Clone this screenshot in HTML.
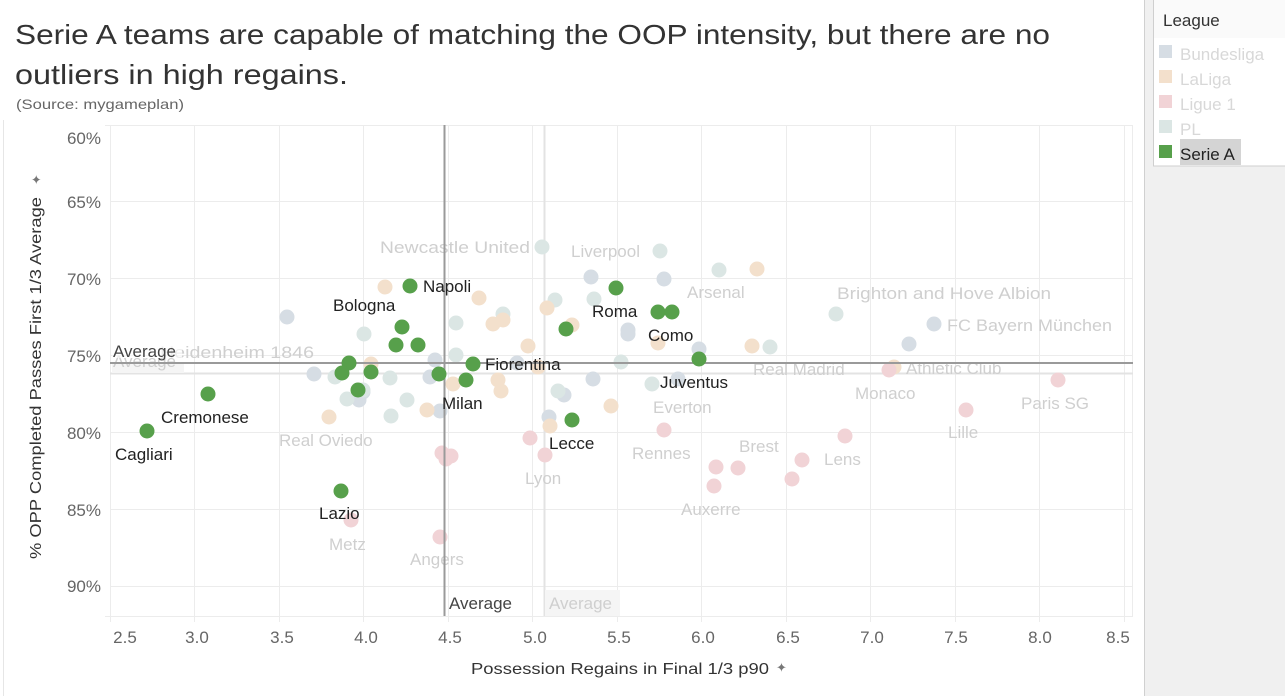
<!DOCTYPE html>
<html><head><meta charset="utf-8"><style>
html,body{margin:0;padding:0;background:#fff;}
svg{display:block;font-family:"Liberation Sans",sans-serif;}
</style></head><body>
<svg width="1285" height="696" viewBox="0 0 1285 696" xmlns="http://www.w3.org/2000/svg">
<rect width="1285" height="696" fill="#fff"/>
<rect x="1144" y="0" width="141" height="696" fill="#f0f0f0"/>
<line x1="1144.5" y1="0" x2="1144.5" y2="696" stroke="#d0d0d0"/>
<rect x="1153.5" y="-1" width="132" height="167" fill="#fff" stroke="#cfcfcf"/>
<rect x="1154" y="0" width="131" height="38" fill="#fafafa"/>
<text x="1163" y="26" font-size="17" fill="#333">League</text>
<rect x="1159" y="45" width="13" height="13" fill="#d6dde4"/>
<text x="1180" y="60" font-size="17" fill="#d8d8d8">Bundesliga</text>
<rect x="1159" y="70" width="13" height="13" fill="#f3e0cc"/>
<text x="1180" y="85" font-size="17" fill="#d8d8d8">LaLiga</text>
<rect x="1159" y="95" width="13" height="13" fill="#f1d3d6"/>
<text x="1180" y="110" font-size="17" fill="#d8d8d8">Ligue 1</text>
<rect x="1159" y="120" width="13" height="13" fill="#dbe6e4"/>
<text x="1180" y="135" font-size="17" fill="#d8d8d8">PL</text>
<rect x="1180" y="139" width="61" height="26" fill="#d4d4d4"/>
<rect x="1159" y="145" width="13" height="13" fill="#57a04b"/>
<text x="1180" y="160" font-size="17" fill="#222">Serie A</text>

<line x1="3.5" y1="120" x2="3.5" y2="696" stroke="#e6e6e6"/>

<text x="15" y="44" font-size="28" fill="#333" textLength="1035" lengthAdjust="spacingAndGlyphs">Serie A teams are capable of matching the OOP intensity, but there are no</text>
<text x="15" y="84" font-size="28" fill="#333" textLength="333" lengthAdjust="spacingAndGlyphs">outliers in high regains.</text>
<text x="16" y="109" font-size="14" fill="#666" textLength="168" lengthAdjust="spacingAndGlyphs">(Source: mygameplan)</text>

<g stroke="#ececec" stroke-width="1">
<line x1="105" y1="125.5" x2="1133" y2="125.5"/>
<line x1="110" y1="201.5" x2="1133" y2="201.5"/>
<line x1="110" y1="278.5" x2="1133" y2="278.5"/>
<line x1="110" y1="355.5" x2="1133" y2="355.5"/>
<line x1="110" y1="432.5" x2="1133" y2="432.5"/>
<line x1="110" y1="509.5" x2="1133" y2="509.5"/>
<line x1="110" y1="586.5" x2="1133" y2="586.5"/>
<line x1="105" y1="616.5" x2="1133" y2="616.5"/>
<line x1="110.5" y1="125" x2="110.5" y2="622"/>
<line x1="194.5" y1="125" x2="194.5" y2="622"/>
<line x1="279.5" y1="125" x2="279.5" y2="622"/>
<line x1="363.5" y1="125" x2="363.5" y2="622"/>
<line x1="448.5" y1="125" x2="448.5" y2="622"/>
<line x1="532.5" y1="125" x2="532.5" y2="622"/>
<line x1="617.5" y1="125" x2="617.5" y2="622"/>
<line x1="701.5" y1="125" x2="701.5" y2="622"/>
<line x1="786.5" y1="125" x2="786.5" y2="622"/>
<line x1="870.5" y1="125" x2="870.5" y2="622"/>
<line x1="955.5" y1="125" x2="955.5" y2="622"/>
<line x1="1039.5" y1="125" x2="1039.5" y2="622"/>
<line x1="1124.5" y1="125" x2="1124.5" y2="622"/>
<line x1="1132.5" y1="125" x2="1132.5" y2="616"/>
</g>

<g font-size="17" fill="#666" text-anchor="end">
<text x="101" y="144">60%</text>
<text x="101" y="208">65%</text>
<text x="101" y="285">70%</text>
<text x="101" y="362">75%</text>
<text x="101" y="439">80%</text>
<text x="101" y="516">85%</text>
<text x="101" y="592">90%</text>
</g>
<g font-size="17" fill="#666" text-anchor="middle">
<text x="125" y="643">2.5</text>
<text x="197" y="643">3.0</text>
<text x="282" y="643">3.5</text>
<text x="366" y="643">4.0</text>
<text x="450" y="643">4.5</text>
<text x="535" y="643">5.0</text>
<text x="619" y="643">5.5</text>
<text x="703" y="643">6.0</text>
<text x="788" y="643">6.5</text>
<text x="872" y="643">7.0</text>
<text x="956" y="643">7.5</text>
<text x="1040" y="643">8.0</text>
<text x="1118" y="643">8.5</text>
</g>
<text x="471" y="674" font-size="16" fill="#333" textLength="298" lengthAdjust="spacingAndGlyphs">Possession Regains in Final 1/3 p90</text>
<text x="776" y="672" font-size="13" fill="#777">✦</text>
<text transform="translate(41,559) rotate(-90)" font-size="16" fill="#333" textLength="362" lengthAdjust="spacingAndGlyphs">% OPP Completed Passes First 1/3 Average</text>
<text transform="translate(41,185) rotate(-90)" font-size="13" fill="#777">✦</text>

<line x1="110" y1="373.5" x2="1133" y2="373.5" stroke="#e3e3e3" stroke-width="2"/>
<line x1="544.5" y1="125" x2="544.5" y2="616" stroke="#e3e3e3" stroke-width="2"/>
<rect x="545" y="590" width="75" height="26" fill="#f5f5f5"/>
<rect x="112" y="362" width="72" height="11" fill="#f5f5f5"/>

<g fill="#d6dde4">
<circle cx="287" cy="317" r="7.5"/><circle cx="314" cy="374" r="7.5"/><circle cx="359" cy="400" r="7.5"/>
<circle cx="435" cy="360" r="7.5"/><circle cx="430" cy="377" r="7.5"/><circle cx="440" cy="411" r="7.5"/>
<circle cx="591" cy="277" r="7.5"/><circle cx="664" cy="279" r="7.5"/><circle cx="628" cy="330" r="7.5"/>
<circle cx="628" cy="334" r="7.5"/><circle cx="699" cy="349" r="7.5"/><circle cx="517" cy="363" r="7.5"/>
<circle cx="593" cy="379" r="7.5"/><circle cx="678" cy="379" r="7.5"/><circle cx="564" cy="395" r="7.5"/>
<circle cx="549" cy="417" r="7.5"/><circle cx="934" cy="324" r="7.5"/><circle cx="909" cy="344" r="7.5"/>
<circle cx="363" cy="392" r="7.5"/>
</g>
<g fill="#dbe6e4">
<circle cx="542" cy="247" r="7.5"/><circle cx="660" cy="251" r="7.5"/><circle cx="719" cy="270" r="7.5"/>
<circle cx="555" cy="300" r="7.5"/><circle cx="594" cy="299" r="7.5"/><circle cx="503" cy="314" r="7.5"/>
<circle cx="456" cy="323" r="7.5"/><circle cx="364" cy="334" r="7.5"/><circle cx="456" cy="355" r="7.5"/>
<circle cx="621" cy="362" r="7.5"/><circle cx="335" cy="377" r="7.5"/><circle cx="390" cy="378" r="7.5"/>
<circle cx="347" cy="399" r="7.5"/><circle cx="407" cy="400" r="7.5"/><circle cx="652" cy="384" r="7.5"/>
<circle cx="558" cy="391" r="7.5"/><circle cx="391" cy="416" r="7.5"/><circle cx="836" cy="314" r="7.5"/>
<circle cx="770" cy="347" r="7.5"/><circle cx="363" cy="390" r="7.5"/>
</g>
<g fill="#f3e0cc">
<circle cx="385" cy="287" r="7.5"/><circle cx="479" cy="298" r="7.5"/><circle cx="547" cy="308" r="7.5"/>
<circle cx="493" cy="324" r="7.5"/><circle cx="503" cy="320" r="7.5"/><circle cx="572" cy="325" r="7.5"/>
<circle cx="658" cy="343" r="7.5"/><circle cx="528" cy="346" r="7.5"/><circle cx="371" cy="364" r="7.5"/>
<circle cx="538" cy="367" r="7.5"/><circle cx="453" cy="384" r="7.5"/><circle cx="498" cy="380" r="7.5"/>
<circle cx="501" cy="391" r="7.5"/><circle cx="611" cy="406" r="7.5"/><circle cx="329" cy="417" r="7.5"/>
<circle cx="427" cy="410" r="7.5"/><circle cx="550" cy="426" r="7.5"/><circle cx="757" cy="269" r="7.5"/>
<circle cx="752" cy="346" r="7.5"/><circle cx="894" cy="367" r="7.5"/>
</g>
<g fill="#f1d3d6">
<circle cx="889" cy="370" r="7.5"/><circle cx="1058" cy="380" r="7.5"/><circle cx="966" cy="410" r="7.5"/>
<circle cx="664" cy="430" r="7.5"/><circle cx="845" cy="436" r="7.5"/><circle cx="530" cy="438" r="7.5"/>
<circle cx="442" cy="453" r="7.5"/><circle cx="451" cy="456" r="7.5"/><circle cx="446" cy="459" r="7.5"/>
<circle cx="545" cy="455" r="7.5"/><circle cx="716" cy="467" r="7.5"/><circle cx="738" cy="468" r="7.5"/>
<circle cx="714" cy="486" r="7.5"/><circle cx="802" cy="460" r="7.5"/><circle cx="792" cy="479" r="7.5"/>
<circle cx="351" cy="520" r="7.5"/><circle cx="440" cy="537" r="7.5"/>
</g>

<g font-size="17" fill="#cfcfcf">
<text x="380" y="253" textLength="150" lengthAdjust="spacingAndGlyphs">Newcastle United</text>
<text x="571" y="257">Liverpool</text>
<text x="687" y="298">Arsenal</text>
<text x="837" y="299" textLength="214" lengthAdjust="spacingAndGlyphs">Brighton and Hove Albion</text>
<text x="947" y="331" textLength="165" lengthAdjust="spacingAndGlyphs">FC Bayern München</text>
<text x="160" y="358" textLength="154" lengthAdjust="spacingAndGlyphs">Heidenheim 1846</text>
<text x="113" y="367">Average</text>
<text x="753" y="375">Real Madrid</text>
<text x="906" y="374">Athletic Club</text>
<text x="855" y="399">Monaco</text>
<text x="1021" y="409">Paris SG</text>
<text x="653" y="413">Everton</text>
<text x="948" y="438">Lille</text>
<text x="279" y="446">Real Oviedo</text>
<text x="632" y="459">Rennes</text>
<text x="739" y="452">Brest</text>
<text x="824" y="465">Lens</text>
<text x="525" y="484">Lyon</text>
<text x="681" y="515">Auxerre</text>
<text x="329" y="550">Metz</text>
<text x="410" y="565">Angers</text>
<text x="549" y="609">Average</text>
</g>

<line x1="110" y1="363" x2="1133" y2="363" stroke="#9a9a9a" stroke-width="2"/>
<line x1="444.5" y1="125" x2="444.5" y2="616" stroke="#9a9a9a" stroke-width="2"/>
<rect x="112" y="341" width="70" height="17" fill="#fff" opacity="0.6"/>
<text x="113" y="357" font-size="17" fill="#444">Average</text>
<text x="449" y="609" font-size="17" fill="#444">Average</text>

<g fill="#57a04b">
<circle cx="410" cy="286" r="7.5"/><circle cx="402" cy="327" r="7.5"/><circle cx="396" cy="345" r="7.5"/>
<circle cx="418" cy="345" r="7.5"/><circle cx="349" cy="363" r="7.5"/><circle cx="342" cy="373" r="7.5"/>
<circle cx="371" cy="372" r="7.5"/><circle cx="358" cy="390" r="7.5"/><circle cx="439" cy="374" r="7.5"/>
<circle cx="473" cy="364" r="7.5"/><circle cx="466" cy="380" r="7.5"/><circle cx="566" cy="329" r="7.5"/>
<circle cx="616" cy="288" r="7.5"/><circle cx="658" cy="312" r="7.5"/><circle cx="672" cy="312" r="7.5"/>
<circle cx="699" cy="359" r="7.5"/><circle cx="572" cy="420" r="7.5"/><circle cx="208" cy="394" r="7.5"/>
<circle cx="147" cy="431" r="7.5"/><circle cx="341" cy="491" r="7.5"/>
</g>
<g font-size="17" fill="#222">
<text x="423" y="292">Napoli</text>
<text x="333" y="311">Bologna</text>
<text x="485" y="370">Fiorentina</text>
<text x="442" y="409">Milan</text>
<text x="592" y="317">Roma</text>
<text x="648" y="341">Como</text>
<text x="660" y="388">Juventus</text>
<text x="549" y="449">Lecce</text>
<text x="161" y="423">Cremonese</text>
<text x="115" y="460">Cagliari</text>
<text x="319" y="519">Lazio</text>
</g>
</svg>
</body></html>
